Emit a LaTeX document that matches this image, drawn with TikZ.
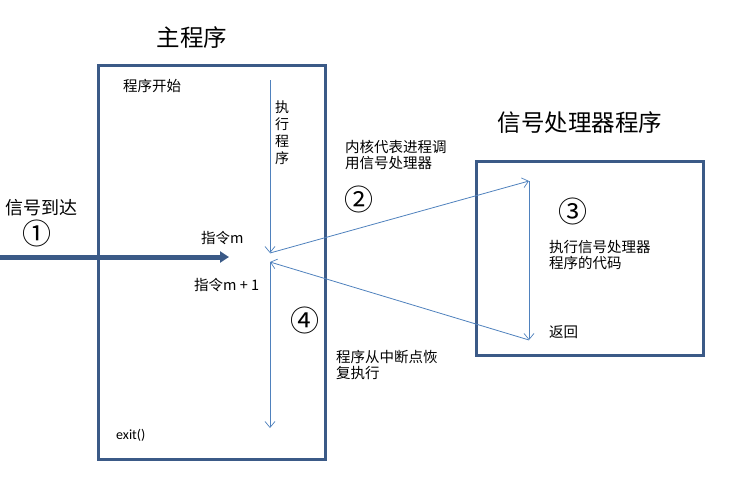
\documentclass[tikz,border=0pt]{standalone}
\usepackage{fontspec}
\setmainfont{Carlito}
\newfontfamily\cjk{Noto Sans CJK SC}
\usetikzlibrary{arrows.meta}
\definecolor{boxc}{HTML}{3B5A87}
\definecolor{linec}{HTML}{4F81BD}
\begin{document}
\begin{tikzpicture}[x=1pt,y=-1pt,
  frame/.style={draw=boxc,line width=3pt},
  flow/.style={draw=linec,line width=0.8pt,-{Straight Barb[length=6pt,width=10pt,line width=0.7pt]}},
  lbl/.style={inner sep=0pt,font=\cjk\fontsize{14.5}{16}\selectfont,align=left},
  big/.style={inner sep=0pt,font=\cjk\fontsize{23.5}{26}\selectfont},
  num/.style={inner sep=0pt,font=\cjk\fontsize{29}{29}\selectfont}]
\useasboundingbox (0,0) rectangle (739,493);
\node[frame,minimum width=227pt,minimum height=394pt,inner sep=0pt,anchor=north west] (main) at (97,64) {};
\node[frame,minimum width=227pt,minimum height=194pt,inner sep=0pt,anchor=north west] (hand) at (475,160) {};
\node[big] (tmain) at (192,38) {主程序};
\node[big] (thand) at (580,123) {信号处理器程序};
\coordinate (a0) at (270,80);
\coordinate (a1) at (270,253);
\coordinate (b1) at (529,181);
\coordinate (b2) at (529,340);
\coordinate (a2) at (270,262);
\coordinate (a3) at (270,428);
\coordinate (s0) at (0,257);
\coordinate (s1) at (229,257);
\draw[draw=boxc,line width=5pt,-{Triangle[length=9pt,width=11pt]}] (s0) -- (s1);
\draw[flow] (a0) -- (a1);
\draw[flow] (a1) -- (b1);
\draw[flow] (b1) -- (b2);
\draw[flow] (b2) -- (a2);
\draw[flow] (a2) -- (a3);
\node[lbl,anchor=west] (start) at (123,86) {程序开始};
\node[lbl,font=\cjk\fontsize{14}{16.7}\selectfont,anchor=north] (exec) at (282,101) {执\\行\\程\\序};
\node[lbl,anchor=west,font=\cjk\fontsize{14.5}{15.5}\selectfont] (t2) at (345,155) {内核代表进程调\\用信号处理器};
\node[num] (n2) at (359,199) {②};
\node[lbl,font=\cjk\fontsize{18}{20}\selectfont,anchor=west] (arr) at (5,208) {信号到达};
\node[num] (n1) at (37,233) {①};
\node[lbl,anchor=west] (im) at (201,238) {指令m};
\node[lbl,anchor=west] (im1) at (194,285) {指令m + 1};
\node[num] (n3) at (573,211) {③};
\node[lbl,anchor=west] (t3) at (549,255) {执行信号处理器\\程序的代码};
\node[lbl,anchor=west] (ret) at (549,332) {返回};
\node[num] (n4) at (305,320) {④};
\node[lbl,anchor=west] (t4) at (336,365) {程序从中断点恢\\复执行};
\node[lbl,anchor=west,font=\fontsize{14}{16}\selectfont] (ex) at (116,435) {exit()};
\end{tikzpicture}
\end{document}
